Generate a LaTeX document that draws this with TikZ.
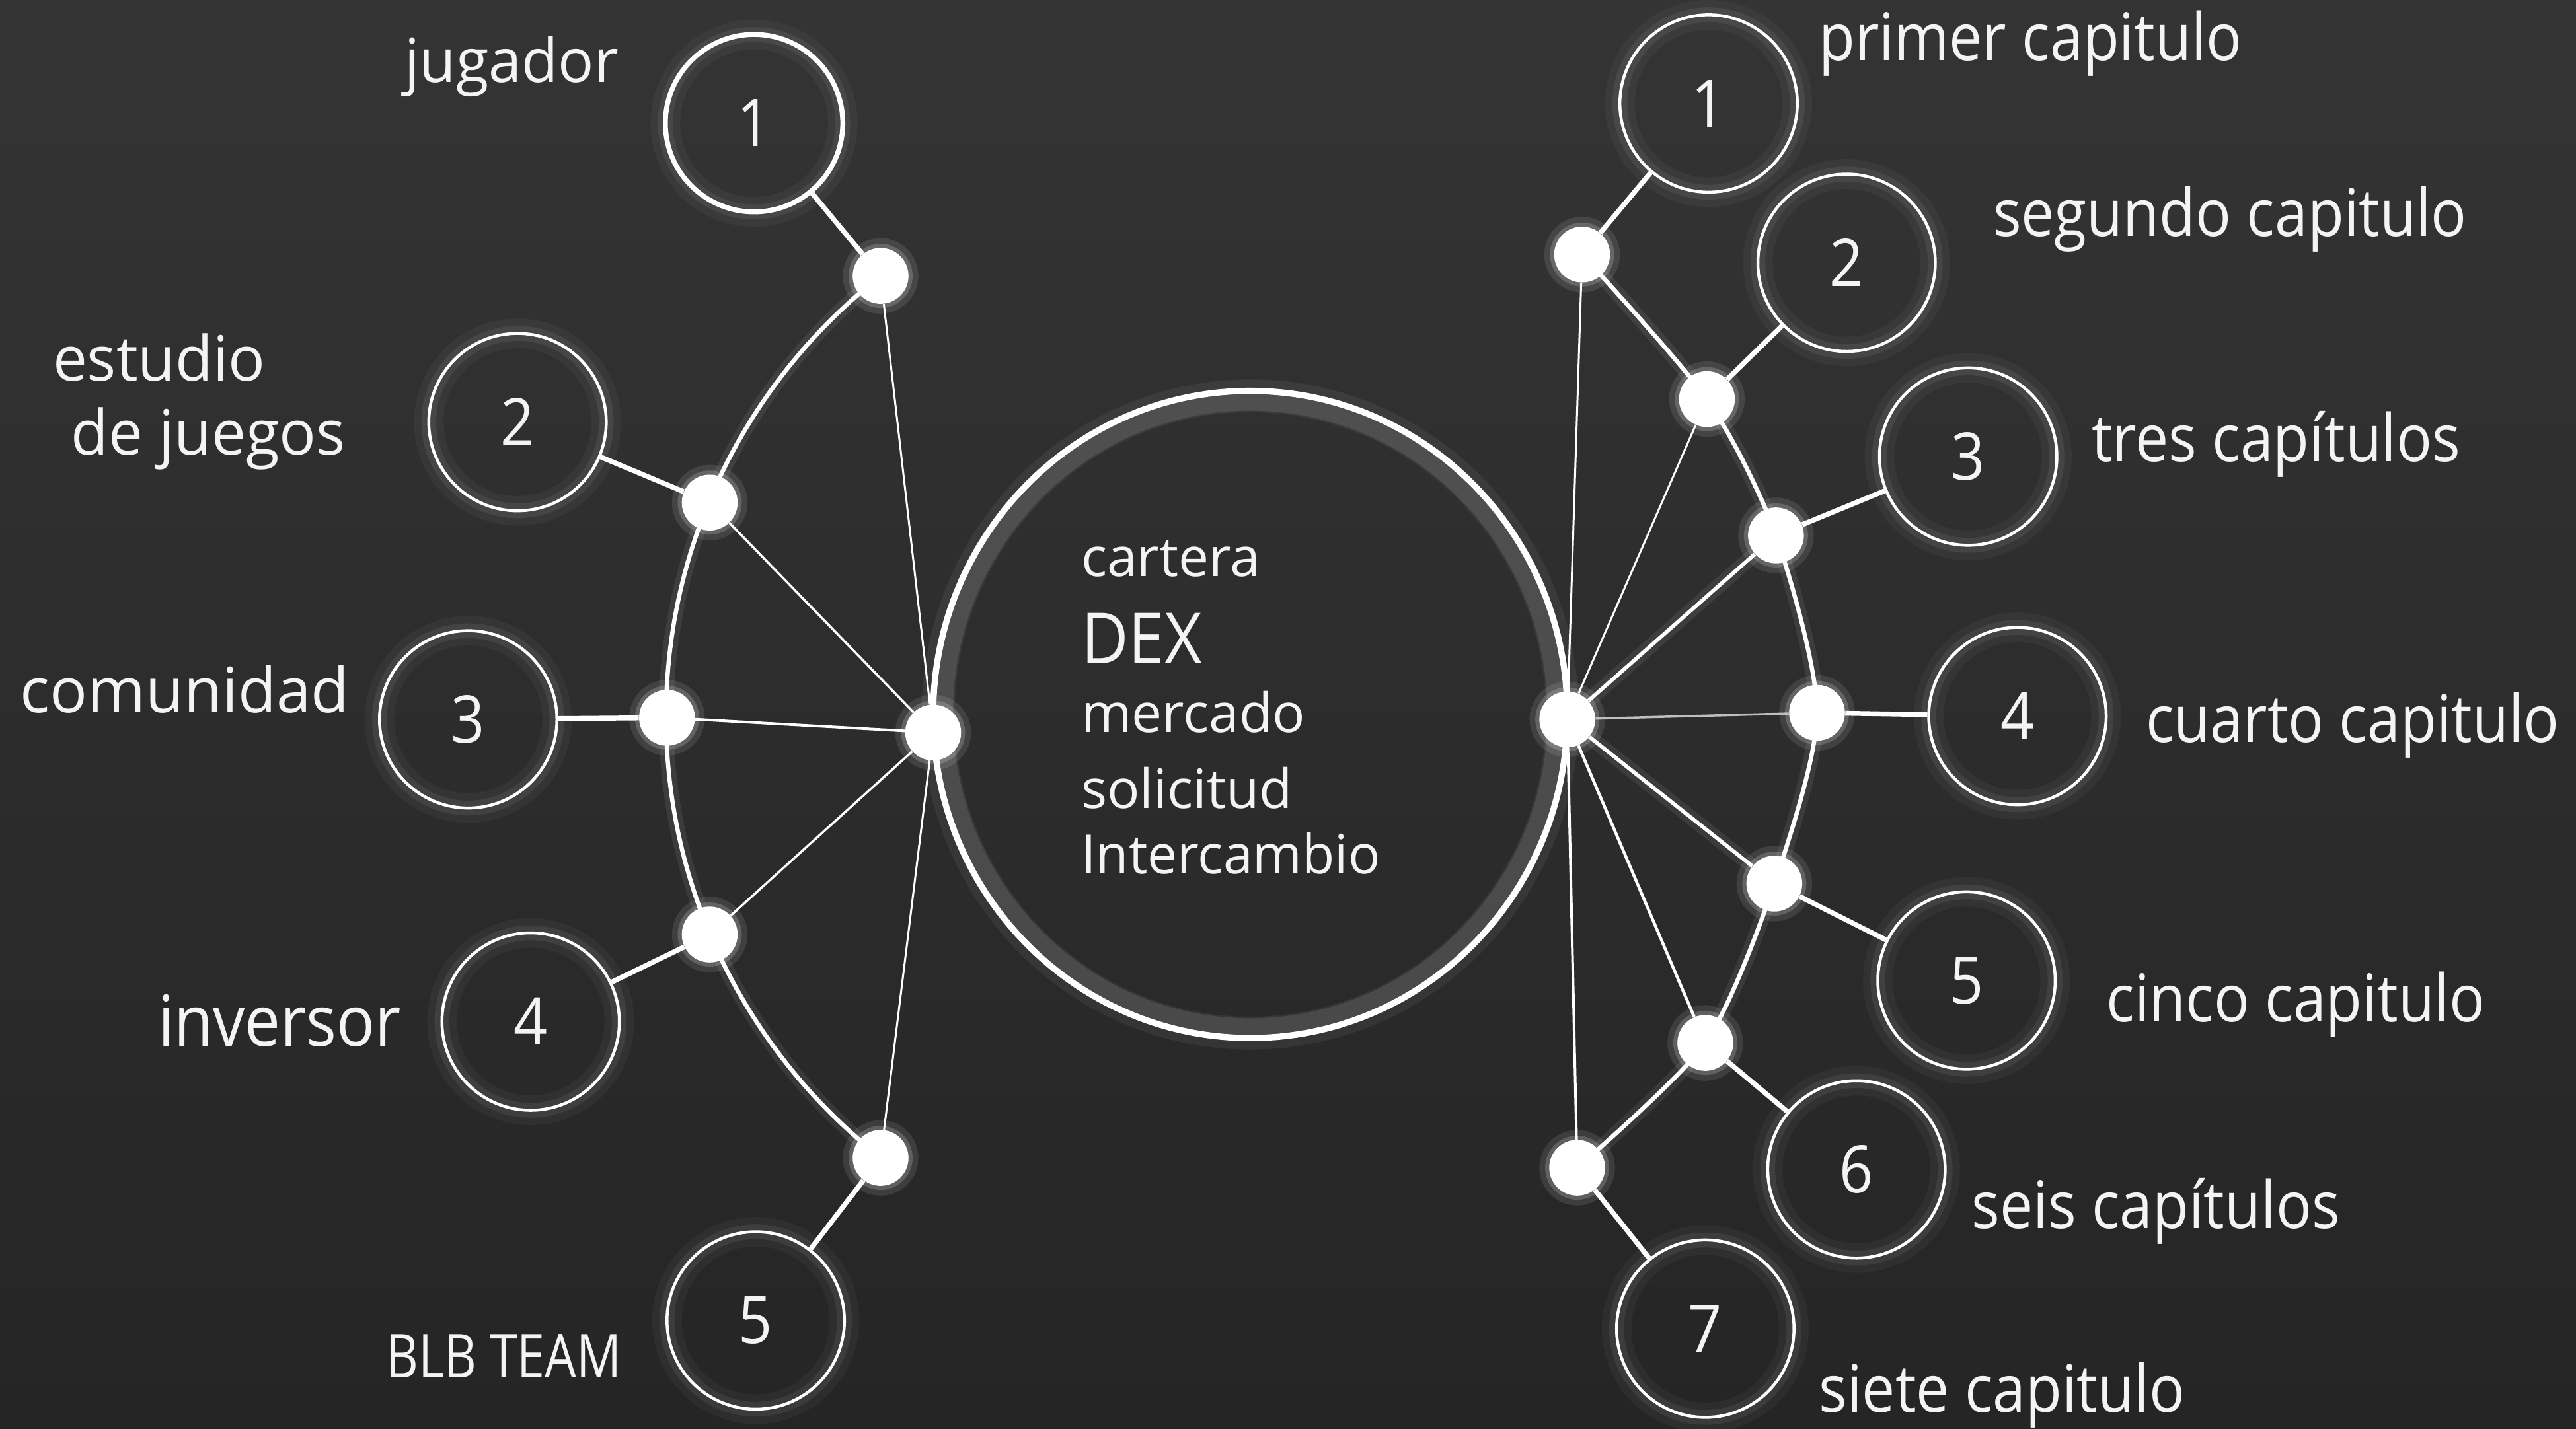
\documentclass[tikz,border=0pt]{standalone}
\usepackage{fontspec}
\setmainfont{Open Sans}
\newfontfamily\fa[FakeStretch=0.9]{Open Sans}
\newfontfamily\fb[FakeStretch=0.82]{Open Sans}
\newfontfamily\fc[FakeStretch=0.92]{Open Sans}
\newfontfamily\fd[FakeStretch=0.98]{Open Sans}
\usetikzlibrary{backgrounds}
\definecolor{bgtop}{RGB}{52,52,52}
\definecolor{bgbot}{RGB}{37,37,37}
\definecolor{txt}{RGB}{244,244,244}
\begin{document}
\begin{tikzpicture}[x=1pt,y=-1pt,
  numc/.style={circle, draw=white, line width=1.8pt, minimum size=108pt, inner sep=0pt,
    text=txt, font=\fa\fontsize{40}{40}\selectfont,
    preaction={draw=white, draw opacity=0.04, line width=18pt},
    preaction={draw=white, draw opacity=0.07, line width=9pt}},
  numcb/.style={numc, line width=3pt},
  dot/.style={circle, fill=white, minimum size=34pt, inner sep=0pt,
    preaction={draw=white, draw opacity=0.10, line width=12pt},
    preaction={draw=white, draw opacity=0.18, line width=5pt}},
  conn/.style={draw=white, line width=3pt},
  chain/.style={draw=white, line width=2.6pt,
    preaction={draw=white, draw opacity=0.08, line width=9pt}},
  spoke/.style={draw=white, line width=1.4pt},
  spokeT/.style={draw=white, line width=2.3pt,
    preaction={draw=white, draw opacity=0.08, line width=9pt}},
  lab/.style={inner sep=0pt, text=txt, anchor=base west},
  llab/.style={lab, font=\fd\fontsize{38}{38}\selectfont},
  rlab/.style={lab, font=\fa\fontsize{40}{40}\selectfont},
  clab/.style={lab, font=\fontsize{33}{33}\selectfont},
]
\useasboundingbox (0,0) rectangle (1568,870);
\begin{scope}[on background layer]
  \shade[top color=bgtop, bottom color=bgbot] (0,0) rectangle (1568,870);
\end{scope}

% central circle
\draw[white, draw opacity=0.10, line width=10pt] (761,435) ellipse [x radius=186, y radius=190];
\draw[white, draw opacity=0.06, line width=20pt] (761,435) ellipse [x radius=190, y radius=194];
\draw[white, line width=3.8pt] (761,435) ellipse [x radius=193, y radius=197];

% hubs
\node[dot] (hL) at (568,446) {};
\node[dot] (hR) at (954,438) {};

% left side
\node[numcb] (L1) at (459,75) {1};
\node[numc]  (L2) at (315,257) {2};
\node[numc]  (L3) at (285,438) {3};
\node[numc]  (L4) at (323,622) {4};
\node[numc]  (L5) at (460,804) {5};
\node[dot] (d1) at (536,168) {};
\node[dot] (d2) at (432,306) {};
\node[dot] (d3) at (406,437) {};
\node[dot] (d4) at (432,569) {};
\node[dot] (d5) at (536,705) {};

% right side
\node[numc] (R1) at (1040,63) {1};
\node[numc] (R2) at (1124,160) {2};
\node[numc] (R3) at (1198,278) {3};
\node[numc] (R4) at (1228,436) {4};
\node[numc] (R5) at (1197,597) {5};
\node[numc] (R6) at (1130,712) {6};
\node[numc] (R7) at (1038,809) {7};
\node[dot] (e1) at (963,155) {};
\node[dot] (e2) at (1039,243) {};
\node[dot] (e3) at (1081,326) {};
\node[dot] (e4) at (1106,434) {};
\node[dot] (e5) at (1080,538) {};
\node[dot] (e6) at (1038,635) {};
\node[dot] (e7) at (960,711) {};

\begin{scope}[on background layer]
  \draw[chain] (d1.center) arc[start angle=231.9, end angle=128.1, radius=341];
  \draw[chain] plot[smooth, tension=0.45] coordinates {(e1.center) (e2.center) (e3.center) (e4.center) (e5.center) (e6.center) (e7.center)};
\end{scope}

% connectors circle - dot
\foreach \a/\b in {L1/d1, L2/d2, L3/d3, L4/d4, L5/d5, R1/e1, R2/e2, R3/e3, R4/e4, R5/e5, R6/e6, R7/e7}
  \draw[conn] (\a) -- (\b);

% spokes
\draw[spoke, line width=1.2pt] (hL) -- (d1);
\draw[spoke] (hL) -- (d2);
\draw[spoke, line width=1.6pt] (hL) -- (d3);
\draw[spoke] (hL) -- (d4);
\draw[spoke, line width=1.2pt] (hL) -- (d5);
\draw[spoke, line width=1.2pt] (hR) -- (e1);
\draw[spoke, line width=1.2pt] (hR) -- (e2);
\draw[spokeT] (hR) -- (e3);
\draw[spoke, draw=white!75!black] (hR) -- (e4);
\draw[spokeT] (hR) -- (e5);
\draw[spoke, line width=1.8pt] (hR) -- (e6);
\draw[spoke, line width=1.6pt] (hR) -- (e7);

% left labels
\node[llab, font=\fd\fontsize{37}{37}\selectfont] (tj) at (246,50) {jugador};
\node[llab] (te1) at (32,232) {estudio};
\node[llab] (te2) at (43,277) {de juegos};
\node[llab, font=\fontsize{38}{38}\selectfont] (tc) at (12,434) {comunidad};
\node[llab, font=\fa\fontsize{43}{43}\selectfont] (ti) at (96,637) {inversor};
\node[lab, font=\fb\fontsize{37}{37}\selectfont] (tb) at (235,839) {BLB TEAM};

% right labels
\node[rlab] (r1) at (1107,37) {primer capitulo};
\node[rlab] (r2) at (1213,144) {segundo capitulo};
\node[rlab] (r3) at (1273,281) {tres capítulos};
\node[rlab] (r4) at (1306,452) {cuarto capitulo};
\node[rlab] (r5) at (1282,622) {cinco capitulo};
\node[rlab] (r6) at (1200,748) {seis capítulos};
\node[rlab] (r7) at (1107,860) {siete capitulo};

% center text
\node[clab] (c1) at (658,351) {cartera};
\node[lab, font=\fc\fontsize{43}{43}\selectfont] (c2) at (658,404) {DEX};
\node[clab] (c3) at (658,446) {mercado};
\node[clab] (c4) at (658,492) {solicitud};
\node[clab, font=\fd\fontsize{33}{33}\selectfont] (c5) at (658,532) {Intercambio};
\end{tikzpicture}
\end{document}
